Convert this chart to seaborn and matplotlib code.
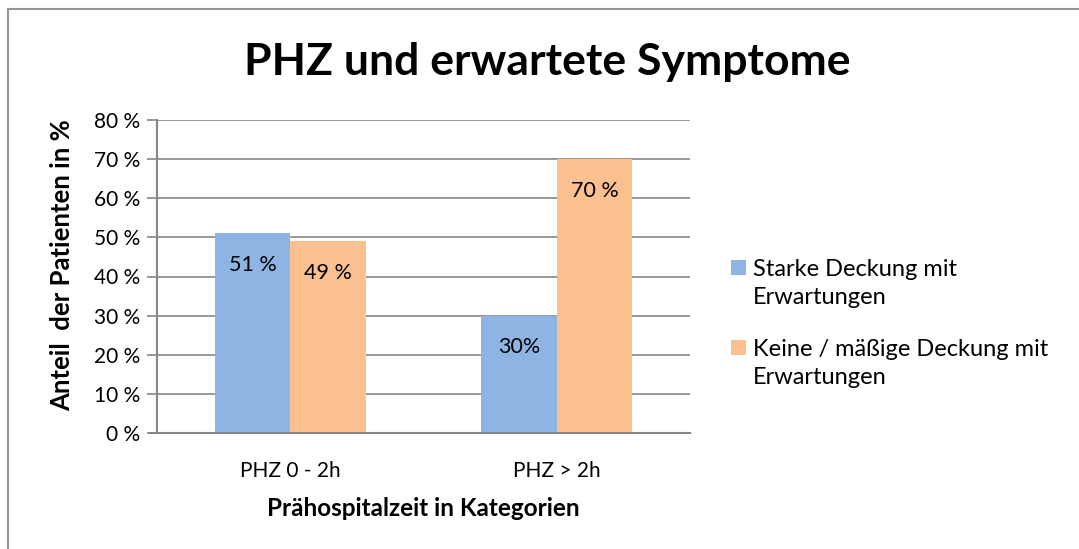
import matplotlib
matplotlib.use("Agg")
import matplotlib.pyplot as plt
import seaborn as sns
import pandas as pd
from matplotlib.lines import Line2D
from matplotlib.patches import Rectangle

categories = ["PHZ 0 - 2h", "PHZ > 2h"]
series_names = ["Starke Deckung mit\nErwartungen", "Keine / mäßige Deckung mit\nErwartungen"]
strong_values = [51, 30]
weak_values = [49, 70]
strong_labels = ["51 %", "30%"]
weak_labels = ["49 %", "70 %"]
y_ticks = [0, 10, 20, 30, 40, 50, 60, 70, 80]
y_tick_labels = ["0 %", "10 %", "20 %", "30 %", "40 %", "50 %", "60 %", "70 %", "80 %"]
colors = ["#8EB4E3", "#FAC090"]

df = pd.DataFrame({
    "cat": categories * 2,
    "series": [series_names[0]] * 2 + [series_names[1]] * 2,
    "value": strong_values + weak_values,
})

sns.set_theme(style="white")
plt.rcParams["font.family"] = ["Lato", "DejaVu Sans"]
plt.rcParams["text.color"] = "black"
plt.rcParams["axes.labelcolor"] = "black"
plt.rcParams["xtick.color"] = "black"
plt.rcParams["ytick.color"] = "black"

W, H = 1079, 549
fig = plt.figure(figsize=(W / 100, H / 100), dpi=100)
ax = fig.add_axes([157 / W, 1 - 433 / H, (690 - 157) / W, (433 - 120) / H])

sns.barplot(data=df, x="cat", y="value", hue="series", hue_order=series_names,
            order=categories, palette=colors, width=0.565, gap=0, ax=ax,
            legend=False, errorbar=None, saturation=1, linewidth=0, zorder=3)

ax.set_xlim(-0.5, 1.5)
ax.set_ylim(0, 80)
ax.set_yticks(y_ticks)
ax.set_yticklabels(y_tick_labels, fontsize=15)
ax.set_xticks(range(len(categories)))
ax.set_xticklabels(categories, fontsize=15)
ax.tick_params(axis="x", length=0, pad=20)
ax.tick_params(axis="y", length=7, width=1.2, color="#868686", labelcolor="black",
               direction="out", pad=5, left=True)
ax.grid(axis="y", color="#868686", linewidth=1.2, zorder=0)
ax.set_axisbelow(True)
for s in ["top", "right"]:
    ax.spines[s].set_visible(False)
for s in ["left", "bottom"]:
    ax.spines[s].set_color("#868686")
    ax.spines[s].set_linewidth(1.5)
    ax.spines[s].set_zorder(4)
ax.plot([-0.5 - 7 / 266.5, -0.5], [0, 0], color="#868686", lw=1.5, clip_on=False, zorder=4)

ax.set_xlabel("Prähospitalzeit in Kategorien", fontsize=17.5, fontweight="bold")
ax.set_ylabel("Anteil  der Patienten in %", fontsize=18.5, fontweight="bold")
ax.xaxis.set_label_coords(0.5, (433 - 508) / 313)
ax.xaxis.label.set_va("center")
ax.yaxis.set_label_coords((62 - 157) / 533, (433 - 265) / 313)
ax.yaxis.label.set_va("center")

label_sets = [strong_labels, weak_labels]
for container, labels in zip(ax.containers, label_sets):
    ax.bar_label(container, labels=labels, label_type="edge", padding=-30, fontsize=15.5, color="black")

fig.text(547 / W, 1 - 62 / H, "PHZ und erwartete Symptome", ha="center", va="center",
         fontsize=32, fontweight="bold")

# legend (handle aligned with first text line, as in the reference)
legend_rows = [(260, 283.5), (340, 363.5)]
for (sq_top, txt_c), name, c in zip(legend_rows, series_names, colors):
    fig.add_artist(Rectangle((731 / W, 1 - (sq_top + 15) / H), 15 / W, 15 / H,
                             facecolor=c, edgecolor="none", transform=fig.transFigure))
    fig.text(753 / W, 1 - txt_c / H, name, ha="left", va="center", fontsize=17,
             linespacing=1.4)

fig.add_artist(Line2D([8 / W, 8 / W], [0, 1 - 9 / H], color="#969696", lw=1.5, transform=fig.transFigure))
fig.add_artist(Line2D([8 / W, 1], [1 - 9 / H, 1 - 9 / H], color="#969696", lw=1.5, transform=fig.transFigure))

fig.savefig("out.png", dpi=100, facecolor="white")
